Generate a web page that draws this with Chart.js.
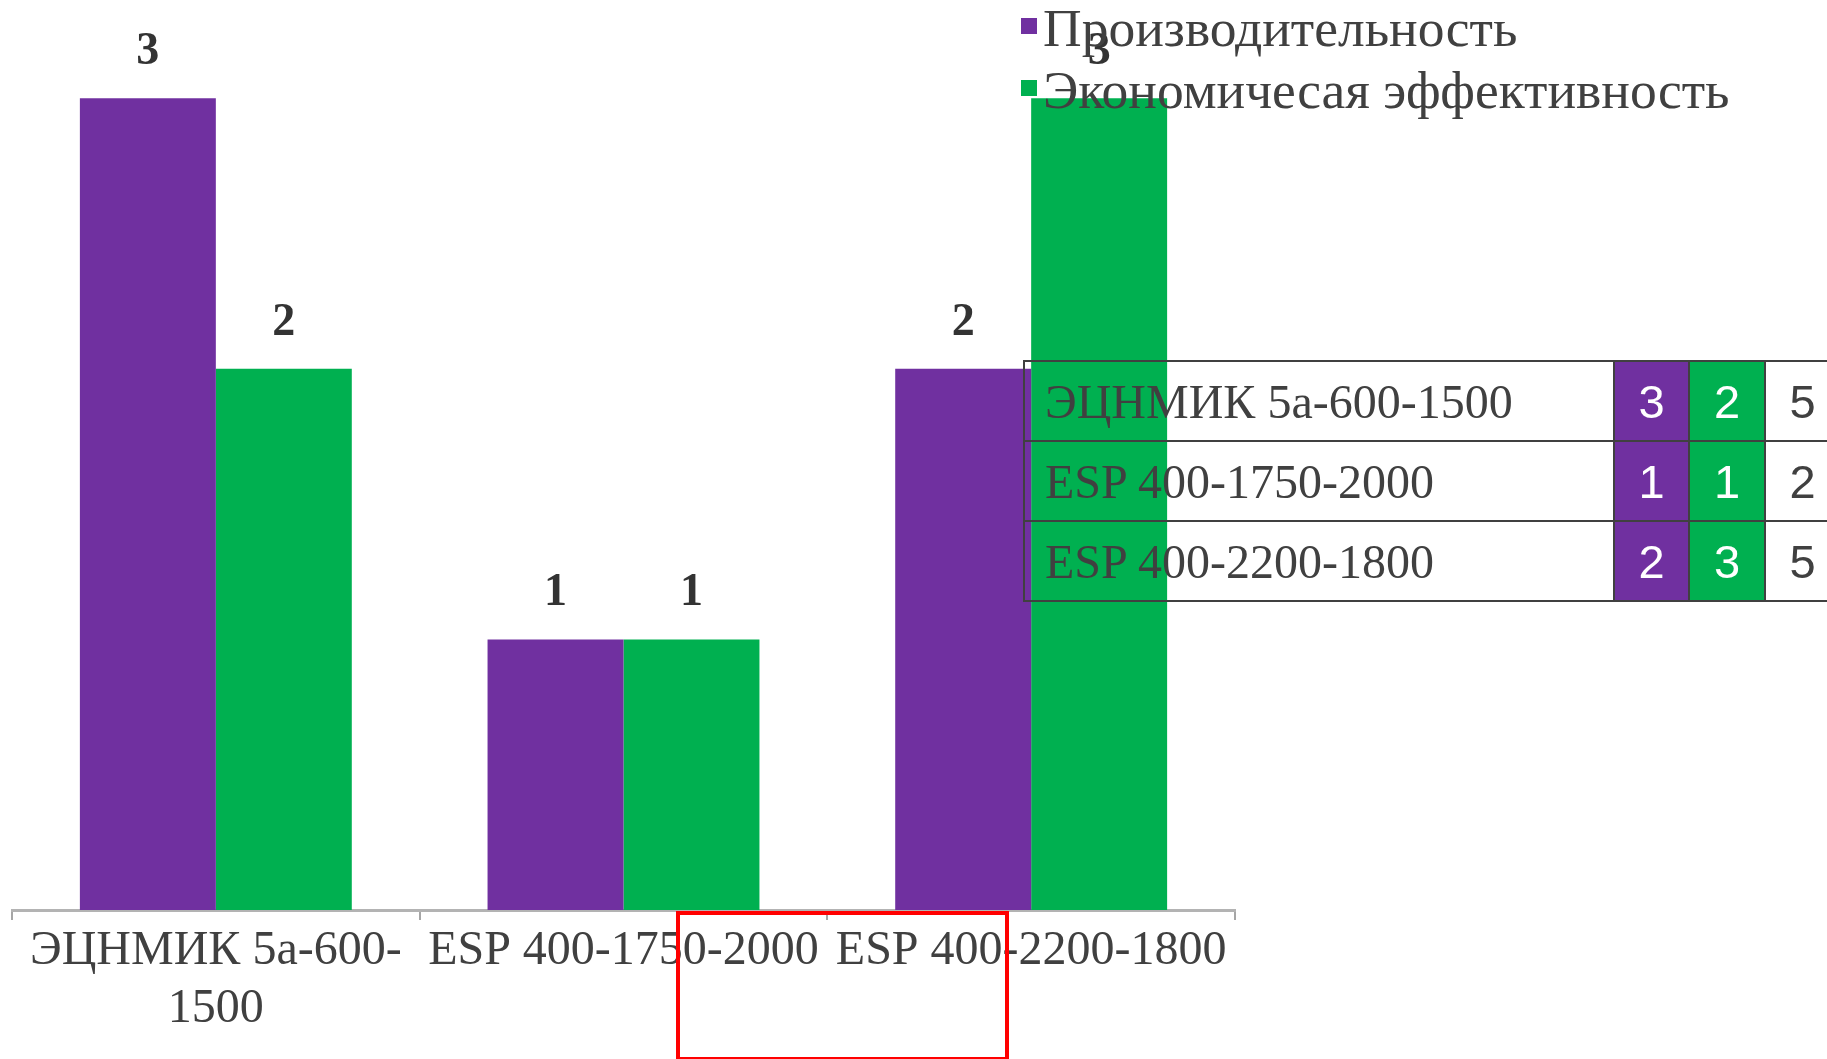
<!DOCTYPE html>
<html lang="ru">
<head>
<meta charset="utf-8">
<title>Сравнение насосов</title>
<script src="https://cdn.jsdelivr.net/npm/chart.js@4.4.1/dist/chart.umd.min.js"></script>
<style>
  html, body { margin: 0; padding: 0; background: #fff; overflow: hidden; }
  #wrap { position: absolute; left: 0; top: 0; width: 1827px; height: 1059px; overflow: hidden; }
  #legend { position: absolute; left: 1021px; top: -3px; font-family: "Liberation Serif", serif; font-size: 53.5px; color: #404040; }
  #legend .item { height: 62px; line-height: 62px; white-space: nowrap; }
  #legend .sw { display: inline-block; width: 16px; height: 16px; margin-right: 6px; vertical-align: 12px; }
  #scores { position: absolute; left: 1023px; top: 360px; border-collapse: collapse; table-layout: fixed; width: 816px; }
  #scores td { border: 2px solid #404040; height: 78px; padding: 0; color: #404040; white-space: nowrap; }
  #scores td.name { padding-left: 20px; font-family: "Liberation Serif", serif; font-size: 48px; }
  #scores td.num { text-align: center; font-family: "Liberation Sans", Arial, sans-serif; font-size: 47px; }
  #mark { position: absolute; left: 676px; top: 911px; width: 333px; height: 150px; box-sizing: border-box; border: 4px solid #ff0000; }
</style>
</head>
<body>
<div id="wrap">
  <canvas id="pumpChart" width="1827" height="1059"></canvas>
  <div id="legend"></div>
  <table id="scores">
    <colgroup><col style="width:590px"><col style="width:75px"><col style="width:76px"><col style="width:75px"></colgroup>
    <tbody id="scoreRows"></tbody>
  </table>
  <div id="mark"></div>
</div>
<script>
const categories = ['ЭЦНМИК 5а-600-1500', 'ESP 400-1750-2000', 'ESP 400-2200-1800'];
const productivity = [3, 1, 2];
const efficiency = [2, 1, 3];
const seriesNames = ['Производительность', 'Экономичесая эффективность'];
const colors = ['#7030a0', '#00b050'];

// split a long category name after its last hyphen, like the original
const measure = document.createElement('canvas').getContext('2d');
measure.font = '48px "Liberation Serif"';
function wrapLabel(text) {
  if (measure.measureText(text).width <= 400) return text;
  const cut = text.lastIndexOf('-') + 1;
  return [text.slice(0, cut), text.slice(cut)];
}

const valueLabels = {
  id: 'valueLabels',
  afterDatasetsDraw(chart) {
    const ctx = chart.ctx;
    ctx.save();
    ctx.font = 'bold 46px "Liberation Serif"';
    ctx.fillStyle = '#333';
    ctx.textAlign = 'center';
    ctx.textBaseline = 'middle';
    chart.data.datasets.forEach((ds, i) => {
      chart.getDatasetMeta(i).data.forEach((bar, j) => {
        ctx.fillText(ds.data[j], bar.x, bar.y - 46);
      });
    });
    ctx.restore();
  }
};

const ctx = document.getElementById('pumpChart').getContext('2d');

const chart = new Chart(ctx, {
  type: 'bar',
  data: {
    labels: categories,
    datasets: [
      { label: seriesNames[0], data: productivity, backgroundColor: colors[0] },
      { label: seriesNames[1], data: efficiency, backgroundColor: colors[1] }
    ]
  },
  options: {
    responsive: false,
    animation: false,
    devicePixelRatio: 1,
    layout: { padding: { left: 12, right: 592, top: 17, bottom: 0 } },
    datasets: { bar: { categoryPercentage: 0.667, barPercentage: 1, borderWidth: 0 } },
    scales: {
      x: {
        offset: true,
        grid: { offset: true, drawOnChartArea: false, drawTicks: true, tickLength: 10, color: '#a6a6a6', lineWidth: 2 },
        border: { color: '#b3b3b3', width: 3 },
        ticks: {
          autoSkip: false,
          maxRotation: 0,
          padding: 2,
          color: '#404040',
          font: { family: 'Liberation Serif', size: 48, lineHeight: 1.22 },
          callback: function (value) { return wrapLabel(this.getLabelForValue(value)); }
        },
        afterFit: scale => { scale.height = 149; }
      },
      y: { display: false, min: 0, max: 3.3 }
    },
    plugins: {
      legend: { display: false },
      tooltip: { enabled: false }
    }
  },
  plugins: [valueLabels]
});

// legend and score table built from the same data
const legend = document.getElementById('legend');
chart.data.datasets.forEach(ds => {
  const item = document.createElement('div');
  item.className = 'item';
  item.innerHTML = '<span class="sw" style="background:' + ds.backgroundColor + '"></span>' + ds.label;
  legend.appendChild(item);
});

const rows = document.getElementById('scoreRows');
categories.forEach((name, i) => {
  const tr = document.createElement('tr');
  tr.innerHTML =
    '<td class="name">' + name + '</td>' +
    '<td class="num" style="background:' + colors[0] + ';color:#fff">' + productivity[i] + '</td>' +
    '<td class="num" style="background:' + colors[1] + ';color:#fff">' + efficiency[i] + '</td>' +
    '<td class="num">' + (productivity[i] + efficiency[i]) + '</td>';
  rows.appendChild(tr);
});
</script>
</body>
</html>
